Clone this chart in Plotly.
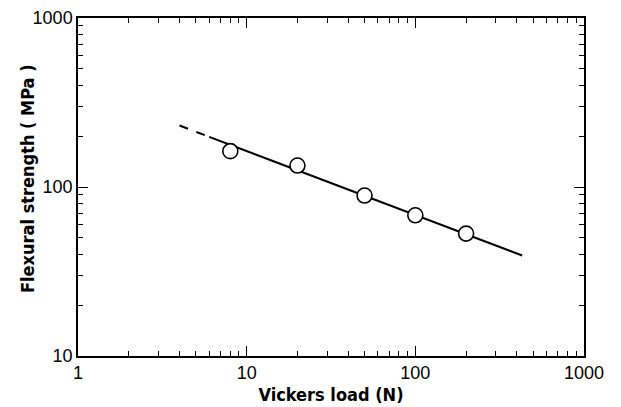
import plotly.graph_objects as go

# Measured data
load_n = [8, 20, 50, 100, 200]
strength_mpa = [163, 134, 89, 68, 53]

# Fitted line (extrapolated part dashed)
fit_dash_x = [4, 6]
fit_dash_y = [231, 198]
fit_solid_x = [6, 430]
fit_solid_y = [198, 39.3]

x_tickvals = [1, 10, 100, 1000]
x_ticktext = ["1", "10", "100", "1000"]
y_tickvals = [10, 100, 1000]
y_ticktext = ["10", "100", "1000"]

fig = go.Figure()
fig.add_trace(go.Scatter(x=fit_dash_x, y=fit_dash_y, mode="lines",
                         line=dict(color="black", width=2, dash="dash"),
                         showlegend=False, hoverinfo="skip"))
fig.add_trace(go.Scatter(x=fit_solid_x, y=fit_solid_y, mode="lines",
                         line=dict(color="black", width=2),
                         showlegend=False, hoverinfo="skip"))
fig.add_trace(go.Scatter(x=load_n, y=strength_mpa, mode="markers",
                         marker=dict(symbol="circle", size=15, color="white",
                                     line=dict(color="black", width=1.6)),
                         showlegend=False))

axis_common = dict(
    type="log", showgrid=False, zeroline=False, automargin=False,
    showline=True, linecolor="black", linewidth=1.5, mirror="ticks",
    ticks="inside", ticklen=10, tickwidth=1.3, tickcolor="black",
    minor=dict(ticks="inside", ticklen=5, tickwidth=1.2, tickcolor="black",
               dtick="D1", showgrid=False),
    tickfont=dict(family="Liberation Sans, Arial", size=18, color="black"),
)

title_font = dict(family="DejaVu Sans Condensed, Liberation Sans", size=18, color="black")

fig.update_xaxes(**axis_common, range=[0, 3], tickvals=x_tickvals, ticktext=x_ticktext,
                 title=dict(text="<b>Vickers load (N)</b>", standoff=10, font=title_font))
fig.update_yaxes(**axis_common, range=[1, 3], tickvals=y_tickvals, ticktext=y_ticktext)

fig.add_annotation(text="<b>Flexural strength ( MPa )</b>", xref="paper", yref="paper",
                   x=0, y=0.5, xanchor="center", yanchor="middle", xshift=-51, yshift=8,
                   textangle=-90, showarrow=False, font=title_font)

fig.update_layout(
    width=605, height=397,
    margin=dict(l=70, r=29, t=10, b=49),
    paper_bgcolor="white", plot_bgcolor="white",
)

fig.write_html("out.html")
